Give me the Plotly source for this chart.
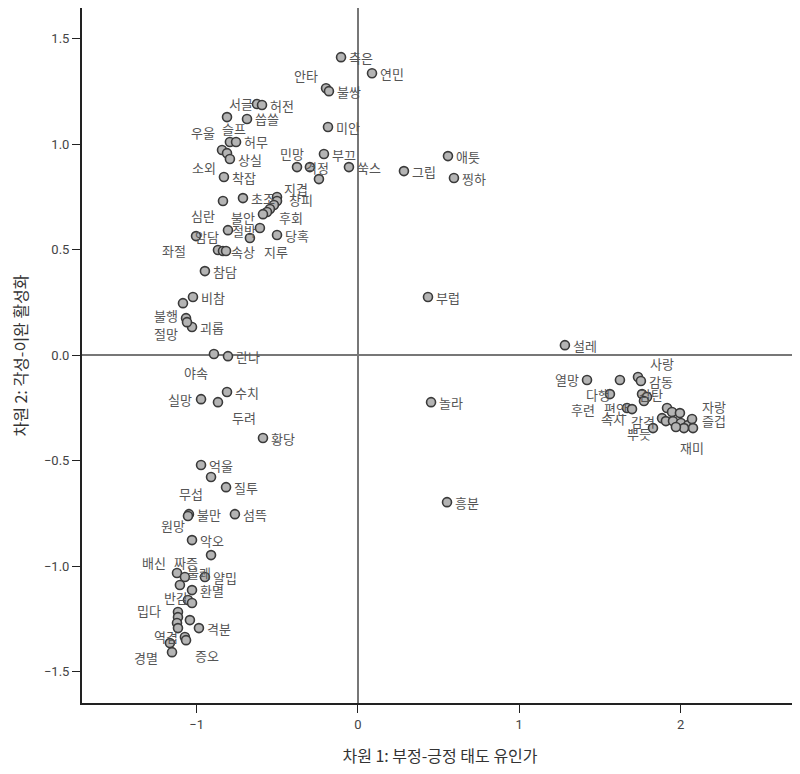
import plotly.graph_objects as go

# 감정 단어 (빈 문자열 = 라벨이 겹쳐서 안 보이는 점)
words = [
    "측은", "연민", "안타", "불쌍", "미안", "부끄", "민망", "걱정", "", "쑥스",
    "그립", "애틋", "찡하", "서글", "허전", "슬프", "씁쓸", "우울", "허무", "",
    "소외", "상실", "착잡", "초조", "심란", "지겹", "창피", "", "후회", "",
    "불안", "절박", "", "", "암담", "당혹", "좌절", "속상", "지루", "참담",
    "비참", "", "불행", "괴롭", "절망", "야속", "란나", "실망", "두려", "수치",
    "황당", "억울", "무섭", "질투", "불만", "원망", "섬뜩", "악오", "짜증", "배신",
    "불쾌", "얄밉", "", "환멸", "반감", "", "밉다", "", "", "",
    "격분", "", "역겹", "증오", "", "경멸",
    "설레", "열망", "", "사랑", "감동", "다행", "감탄", "", "", "편안",
    "후련", "속시", "감격", "", "", "", "", "", "", "자랑",
    "즐겁", "뿌듯", "재미", "",
    "부럽", "놀라", "흥분",
]

# 차원 1: 부정-긍정 태도 유인가
dim1 = [
    -0.105, 0.087, -0.198, -0.180, -0.186, -0.211, -0.298, -0.378, -0.242, -0.056,
    0.285, 0.558, 0.595, -0.626, -0.595, -0.812, -0.688, -0.794, -0.756, -0.843,
    -0.812, -0.794, -0.831, -0.713, -0.837, -0.502, -0.502, -0.521, -0.546, -0.564,
    -0.589, -0.806, -0.608, -0.670, -1.004, -0.502, -0.868, -0.837, -0.818, -0.949,
    -1.023, -1.085, -1.066, -1.029, -1.060, -0.893, -0.806, -0.973, -0.868, -0.812,
    -0.589, -0.973, -0.911, -0.818, -1.048, -1.054, -0.763, -1.029, -0.911, -1.122,
    -1.073, -0.949, -1.104, -1.029, -1.054, -1.029, -1.116, -1.116, -1.122, -1.042,
    -0.986, -1.116, -1.073, -1.066, -1.166, -1.153,
    1.283, 1.420, 1.624, 1.736, 1.754, 1.562, 1.761, 1.792, 1.773, 1.668,
    1.699, 1.885, 1.909, 1.916, 1.947, 1.996, 1.953, 2.002, 2.046, 2.071,
    2.077, 1.829, 2.021, 1.971,
    0.434, 0.453, 0.552,
]

# 차원 2: 각성-이완 활성화
dim2 = [
    1.412, 1.336, 1.265, 1.251, 1.081, 0.953, 0.891, 0.891, 0.834, 0.891,
    0.872, 0.943, 0.839, 1.190, 1.185, 1.128, 1.119, 1.010, 1.010, 0.972,
    0.957, 0.929, 0.844, 0.744, 0.730, 0.749, 0.730, 0.711, 0.692, 0.678,
    0.668, 0.592, 0.602, 0.555, 0.564, 0.569, 0.498, 0.493, 0.493, 0.398,
    0.275, 0.246, 0.175, 0.133, 0.156, 0.005, -0.005, -0.209, -0.223, -0.175,
    -0.393, -0.521, -0.578, -0.626, -0.754, -0.763, -0.754, -0.877, -0.948, -1.033,
    -1.052, -1.052, -1.090, -1.114, -1.161, -1.175, -1.218, -1.242, -1.270, -1.256,
    -1.294, -1.294, -1.336, -1.351, -1.365, -1.408,
    0.047, -0.118, -0.118, -0.104, -0.123, -0.185, -0.185, -0.199, -0.218, -0.251,
    -0.256, -0.299, -0.313, -0.251, -0.270, -0.275, -0.313, -0.322, -0.332, -0.303,
    -0.346, -0.346, -0.346, -0.341,
    0.275, -0.223, -0.697,
]

x_ticks = [-1, 0, 1, 2]
y_ticks = [-1.5, -1.0, -0.5, 0.0, 0.5, 1.0, 1.5]

# 라벨 위치 보정 (기본: 점 오른쪽)
label_pos = {
    "안타": ("right", -6, 13), "민망": ("right", -4, 14), "서글": ("right", -2, 1),
    "슬프": ("left", -7, -11), "우울": ("right", -13, 9), "소외": ("right", -9, -14),
    "심란": ("right", -6, -14), "지겹": ("left", 5, 9), "창피": ("left", 10, 2),
    "후회": ("left", 7, -8), "불안": ("right", -6, -3), "절박": ("left", 2, 0),
    "암담": ("left", -3, 0), "좌절": ("right", -30, 0), "지루": ("left", 36, 0),
    "불행": ("right", -6, 3), "절망": ("right", -7, -11), "야속": ("right", -4, -18),
    "실망": ("right", -7, 0), "두려": ("left", 12, -15), "무섭": ("right", -6, -16),
    "원망": ("right", -1, -9), "짜증": ("right", -11, -7), "배신": ("right", -9, 11),
    "불쾌": ("left", 0, 5), "반감": ("right", 2, 3), "밉다": ("right", -15, 2),
    "역겹": ("right", -5, 0), "증오": ("left", 7, -15), "경멸": ("right", -12, -5),
    "열망": ("right", -6, 0), "사랑": ("left", 10, 14), "다행": ("right", 2, 0),
    "감탄": ("left", -5, 0), "편안": ("right", 3, 0), "후련": ("right", -35, 0),
    "속시": ("right", -35, 0), "감격": ("right", -9, 0), "뿌듯": ("right", 0, -5),
    "재미": ("left", -6, -19), "자랑": ("left", 8, 13), "즐겁": ("left", 7, 8),
}

fig = go.Figure()
fig.add_trace(go.Scatter(
    x=dim1, y=dim2, mode="markers",
    marker=dict(size=9, color="#b4b4b4", line=dict(color="#3a3a3a", width=1.6)),
    hovertext=words, showlegend=False,
))

annotations = []
for w, xv, yv in zip(words, dim1, dim2):
    if not w:
        continue
    anchor, dx, dy = label_pos.get(w, ("left", 6, 0))
    annotations.append(dict(
        x=xv, y=yv, text=w, showarrow=False,
        xanchor=anchor, yanchor="middle", xshift=dx, yshift=dy,
        font=dict(family="Noto Sans CJK KR", size=13, color="#555555"),
    ))

# 페이지 body 여백(8px)을 감안한 여백
fig.update_layout(
    width=800, height=774,
    margin=dict(l=74, r=10, t=0, b=79),
    plot_bgcolor="white", paper_bgcolor="white",
    annotations=annotations,
    font=dict(family="Liberation Sans Narrow, Roboto", size=13, color="#444444"),
    xaxis=dict(
        range=[-1.711, 2.728], tickvals=x_ticks, showgrid=False, automargin=False,
        zeroline=True, zerolinecolor="#777777", zerolinewidth=1.5,
        showline=True, linecolor="#222222", linewidth=2, mirror=True,
        ticks="outside", ticklen=8, tickcolor="#222222",
        title=dict(text="차원 1: 부정-긍정 태도 유인가", standoff=20,
                   font=dict(family="Noto Sans CJK KR", size=16, color="#333333")),
    ),
    yaxis=dict(
        range=[-1.649, 1.645], tickvals=y_ticks, tickformat=".1f", showgrid=False,
        automargin=False,
        zeroline=True, zerolinecolor="#777777", zerolinewidth=1.5,
        showline=True, linecolor="#222222", linewidth=2, mirror=True,
        ticks="outside", ticklen=8, tickcolor="#222222",
        title=dict(text="차원 2: 각성-이완 활성화", standoff=18,
                   font=dict(family="Noto Sans CJK KR", size=16, color="#333333")),
    ),
)

fig.write_html("out.html")
